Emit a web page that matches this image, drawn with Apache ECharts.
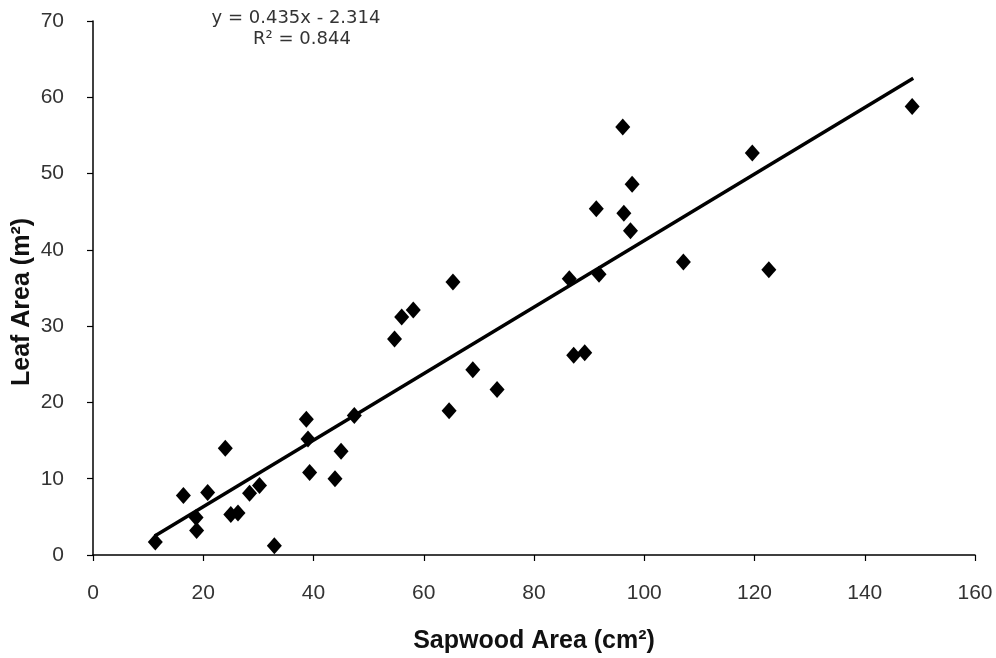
<!DOCTYPE html>
<html>
<head>
<meta charset="utf-8">
<script src="https://cdn.jsdelivr.net/npm/echarts@6/dist/echarts.min.js"></script>
<style>
html,body{margin:0;padding:0;background:#fff;}
#chart{width:996px;height:658px;}
</style>
</head>
<body>
<div id="chart"></div>
<script>
var sapwood = [11.3, 16.4, 18.7, 18.8, 20.8, 24.0, 25.0, 26.3, 28.4, 30.2, 32.9, 38.7, 39.0, 39.3, 43.9, 45.0, 47.4, 54.7, 56.0, 58.1, 64.6, 65.3, 68.9, 73.3, 86.4, 87.2, 89.2, 91.3, 91.8, 96.1, 96.3, 97.5, 97.8, 107.1, 119.6, 122.6, 148.6];
var leaf = [1.7, 7.8, 4.9, 3.2, 8.2, 14.0, 5.3, 5.5, 8.1, 9.1, 1.2, 17.8, 15.2, 10.8, 10.0, 13.6, 18.3, 28.3, 31.2, 32.1, 18.9, 35.8, 24.3, 21.7, 36.2, 26.2, 26.5, 45.4, 36.8, 56.1, 44.8, 42.5, 48.6, 38.4, 52.7, 37.4, 58.8];
var trendX = [11.2, 148.8];
var trendY = [2.5, 62.5];
var xTitle = 'Sapwood Area (cm²)';
var yTitle = 'Leaf Area (m²)';
var eqLine1 = 'y = 0.435x - 2.314';
var eqLine2 = 'R² = 0.844';

var points = sapwood.map(function (x, i) { return [x, leaf[i]]; });
var trend = trendX.map(function (x, i) { return [x, trendY[i]]; });

var chart = echarts.init(document.getElementById('chart'), null, {renderer: 'canvas'});
var tickFont = '"Liberation Sans", Arial, sans-serif';
chart.setOption({
  animation: false,
  backgroundColor: '#fff',
  grid: {left: 93, right: 21, top: 21, bottom: 103, containLabel: false},
  xAxis: {
    type: 'value', min: 0, max: 160, interval: 20,
    axisLine: {lineStyle: {color: '#000', width: 1.5}},
    axisTick: {show: true, length: 6, lineStyle: {color: '#000', width: 1.2}},
    axisLabel: {color: '#333', fontFamily: tickFont, fontSize: 21, margin: 28},
    splitLine: {show: false}
  },
  yAxis: {
    type: 'value', min: 0, max: 70, interval: 10,
    axisLine: {show: true, lineStyle: {color: '#000', width: 1.5}},
    axisTick: {show: true, length: 6, lineStyle: {color: '#000', width: 1.2}},
    axisLabel: {color: '#333', fontFamily: tickFont, fontSize: 21, margin: 29},
    splitLine: {show: false}
  },
  series: [
    {
      type: 'line', data: trend, showSymbol: false, symbol: 'none',
      lineStyle: {color: '#000', width: 3.5}, z: 2
    },
    {
      type: 'scatter', data: points, symbol: 'diamond', symbolSize: [15, 17],
      itemStyle: {color: '#000', opacity: 1}, z: 3
    }
  ],
  graphic: [
    {
      type: 'text', x: 296, y: 18,
      style: {text: eqLine1, font: '18px "DejaVu Sans", sans-serif', fill: '#333', textAlign: 'center', textVerticalAlign: 'middle'}
    },
    {
      type: 'text', x: 302, y: 39,
      style: {text: eqLine2, font: '18px "DejaVu Sans", sans-serif', fill: '#333', textAlign: 'center', textVerticalAlign: 'middle'}
    },
    {
      type: 'text', x: 534, y: 641,
      style: {text: xTitle, font: 'bold 25px "Liberation Sans", Arial, sans-serif', fill: '#111', textAlign: 'center', textVerticalAlign: 'middle'}
    },
    {
      type: 'text', x: 22, y: 302, rotation: Math.PI / 2,
      style: {text: yTitle, font: 'bold 25px "Liberation Sans", Arial, sans-serif', fill: '#111', textAlign: 'center', textVerticalAlign: 'middle'}
    }
  ]
});
</script>
</body>
</html>
